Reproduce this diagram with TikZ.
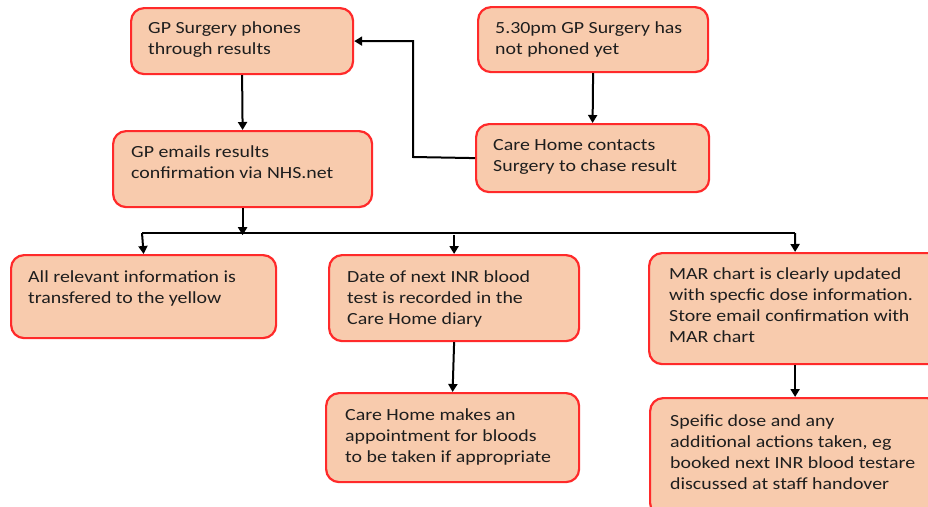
\documentclass[tikz,border=0pt]{standalone}
\usepackage{fontspec}
\setmainfont{Carlito}[FakeStretch=1.17]
\usetikzlibrary{arrows.meta,calc}
\definecolor{boxfill}{HTML}{F8CBAD}
\definecolor{boxred}{HTML}{FF2A2A}
\definecolor{txtcol}{HTML}{1E1E1E}
\newcommand\btext[2]{\parbox[t]{#1pt}{\raggedright\fontsize{17}{21.2}\selectfont\strut #2}}
\tikzset{
  flowbox/.style={draw=boxred, fill=boxfill, line width=2.2pt, rounded corners=13pt, rectangle, inner sep=0pt, anchor=north west},
  btxt/.style={anchor=base west, inner sep=0pt, text=txtcol},
  arr/.style={line width=2pt, -{Triangle[length=8pt,width=9pt]}},
  plain/.style={line width=2pt}
}
\begin{document}
\begin{tikzpicture}[x=1pt,y=-1pt]
\clip (0,0) rectangle (928,506);
\fill[white] (0,0) rectangle (928,506);
% boxes
\node[flowbox, minimum width=222pt, minimum height=66pt] (A) at (130,7) {};
\node[flowbox, minimum width=230pt, minimum height=65pt] (B) at (477,6) {};
\node[flowbox, minimum width=259pt, minimum height=76pt] (C) at (112,130) {};
\node[flowbox, minimum width=233pt, minimum height=68pt] (D) at (475,123) {};
\node[flowbox, minimum width=265pt, minimum height=83pt] (E) at (10,254) {};
\node[flowbox, minimum width=250pt, minimum height=86pt] (F) at (328,254) {};
\node[flowbox, minimum width=253pt, minimum height=89pt] (G) at (325,392) {};
\node[flowbox, minimum width=292pt, minimum height=111pt] (H) at (648,252) {};
\node[flowbox, minimum width=290pt, minimum height=118pt] (I) at (649,397) {};
% texts
\node[btxt] (At) at (148,33) {\btext{210}{GP Surgery phones\\through results}};
\node[btxt] (Bt) at (495,33) {\btext{210}{5.30pm GP Surgery has\\not phoned yet}};
\node[btxt] (Ct) at (131,157) {\btext{240}{GP emails results\\confirmation via NHS.net}};
\node[btxt] (Dt) at (493,150) {\btext{215}{Care Home contacts\\Surgery to chase result}};
\node[btxt] (Et) at (28,282) {\btext{245}{All relevant information is\\transfered to the yellow}};
\node[btxt] (Ft) at (347,282) {\btext{230}{Date of next INR blood\\test is recorded in the\\Care Home diary}};
\node[btxt] (Gt) at (345,420) {\btext{240}{Care Home makes an\\appointment for bloods\\to be taken if appropriate}};
\node[btxt] (Ht) at (669,279) {\btext{260}{MAR chart is clearly updated\\with specfic dose information.\\Store email confirmation with\\MAR chart}};
\node[btxt] (It) at (670,426) {\btext{260}{Speific dose and any\\additional actions taken, eg\\booked next INR blood testare\\discussed at staff handover}};
% connectors
\coordinate (dj) at (413,157);
\coordinate (bj) at ($(C.south)+(0,27)$);
\coordinate (bl) at (142,233);
\coordinate (br) at (795,233);
\draw[arr] (A.south) -- (C.north);
\draw[arr] (B.south) -- (D.north);
\draw[arr] (D.west) -- (dj) |- (A.east);
\draw[arr] (C.south) -- (bj);
\draw[plain] (bl) -- (br);
\draw[arr] (bl) -- (E.north);
\draw[arr] (bj -| F.north) -- (F.north);
\draw[arr] (br) -- (H.north);
\draw[arr] (F.south) -- (G.north);
\draw[arr] (H.south) -- (I.north);
\end{tikzpicture}
\end{document}
